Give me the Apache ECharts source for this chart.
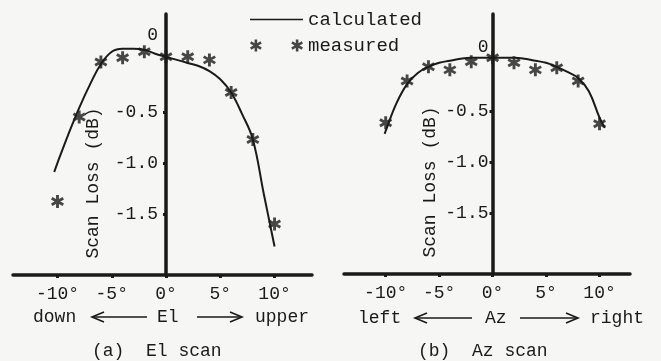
<!DOCTYPE html>
<html>
<head>
<meta charset="utf-8">
<script src="https://cdn.jsdelivr.net/npm/echarts@6/dist/echarts.min.js"></script>
<style>
  html, body { margin: 0; padding: 0; background: #f6f6f4; }
  #main { width: 661px; height: 361px; }
</style>
</head>
<body>
<div id="main"></div>
<script>
// (a) El scan
var elMeasDeg = [-10, -8, -6, -4, -2, 0, 2, 4, 6, 8, 10];
var elMeas = [-1.38, -0.55, -0.01, 0.03, 0.09, 0.04, 0.04, 0.01, -0.31, -0.77, -1.6];
var elCalcDeg = [-10.3, -10, -9, -8, -7, -6, -5, -4, -3, -2, -1, 0, 1, 2, 3, 4, 5, 6, 7, 8, 9, 10];
var elCalc = [-1.09, -1.0, -0.72, -0.46, -0.23, -0.03, 0.09, 0.12, 0.12, 0.11, 0.07, 0.04, 0.01, -0.02, -0.05, -0.1, -0.18, -0.31, -0.52, -0.77, -1.3, -1.82];

// (b) Az scan
var azMeasDeg = [-10, -8, -6, -4, -2, 0, 2, 4, 6, 8, 10];
var azMeas = [-0.61, -0.2, -0.06, -0.09, -0.01, 0.03, -0.02, -0.09, -0.07, -0.2, -0.62];
var azCalcDeg = [-10.1, -10, -9, -8, -7, -6, -5, -4, -3, -2, -1, 0, 1, 2, 3, 4, 5, 6, 7, 8, 9, 10, 10.5];
var azCalc = [-0.72, -0.69, -0.42, -0.23, -0.12, -0.06, -0.02, 0.0, 0.02, 0.03, 0.03, 0.03, 0.03, 0.03, 0.02, 0.0, -0.02, -0.06, -0.11, -0.17, -0.3, -0.56, -0.66];

var xTicks = [-10, -5, 0, 5, 10];
var yTicks = [0, -0.5, -1, -1.5];

var FONT = 'Liberation Mono';
var INK = '#1a1a1a';

function pairs(xs, ys) {
    var out = [];
    for (var i = 0; i < xs.length; i++) out.push([xs[i], ys[i]]);
    return out;
}

// 6 armige Sternchen als Pfad
function starPath(cx) {
    var h = 1.3, l = 6, s = '';
    [0, Math.PI / 3, -Math.PI / 3].forEach(function (t) {
        var c = Math.cos(t), sn = Math.sin(t);
        var pts = [[-h, -l], [h, -l], [h, l], [-h, l]].map(function (p) {
            return (cx + p[0] * c - p[1] * sn).toFixed(2) + ',' + (p[0] * sn + p[1] * c).toFixed(2);
        });
        s += 'M' + pts[0] + ' L' + pts[1] + ' L' + pts[2] + ' L' + pts[3] + ' Z ';
    });
    return s;
}
var starIcon = 'path://' + starPath(0);
var starPairIcon = 'path://' + starPath(0) + starPath(41);
// Linie fuer die Legende, winzige Punkte halten die Box auf 53x14
var lineIcon = 'path://M0,6.2 L53,6.2 L53,7.8 L0,7.8 Z M0,0 L0.01,0 L0.01,0.01 Z M0,14 L0.01,14 L0.01,13.99 Z';

function xAxisOpt(idx, min, max) {
    return {
        type: 'value', gridIndex: idx, min: min, max: max,
        splitLine: { show: false },
        axisLine: { onZero: false, lineStyle: { color: INK, width: 3.5 } },
        axisTick: { customValues: xTicks, length: 3, lineStyle: { color: INK, width: 3 } },
        axisLabel: {
            customValues: xTicks, margin: 10, color: INK, fontFamily: FONT, fontSize: 18,
            formatter: function (v) { return v + '\u00b0'; }
        }
    };
}

// offset schiebt die Achse (Linie + Beschriftung) auf x = 0
function yAxisOpt(idx, offset, zeroShift, margin) {
    return {
        type: 'value', gridIndex: idx, min: -2.1, max: 0.46, offset: offset,
        splitLine: { show: false },
        axisLine: { onZero: false, lineStyle: { color: INK, width: 3.5 } },
        axisTick: { customValues: [-0.5, -1, -1.5], length: 3, lineStyle: { color: INK, width: 3 } },
        axisLabel: {
            customValues: yTicks, margin: margin, color: INK, fontFamily: FONT, fontSize: 18,
            formatter: function (v) { return v === 0 ? '{z|0}' : v.toFixed(1); },
            rich: { z: { fontFamily: FONT, fontSize: 18, color: INK, padding: [0, zeroShift[1], zeroShift[0], 0] } }
        }
    };
}

function arrow(x1, x2, y) {
    // Pfeilspitze bei x2
    var d = x2 > x1 ? -1 : 1;
    return [
        { type: 'line', shape: { x1: x1, y1: y, x2: x2, y2: y }, style: { stroke: INK, lineWidth: 1.6 } },
        { type: 'polyline', shape: { points: [[x2 + d * 12, y - 5], [x2, y], [x2 + d * 12, y + 5]] }, style: { stroke: INK, fill: null, lineWidth: 1.6 } }
    ];
}
function vtext(x, y, s) {
    return { type: 'text', x: x, y: y, rotation: Math.PI / 2, style: { text: s, font: '18px ' + FONT, fill: INK, textAlign: 'center', textVerticalAlign: 'middle' } };
}
function htext(x, y, s) {
    return { type: 'text', x: x, y: y, style: { text: s, font: '18px ' + FONT, fill: INK, textVerticalAlign: 'middle' } };
}

var graphics = [
    vtext(93, 183, 'Scan Loss (dB)'),
    vtext(430, 182, 'Scan Loss (dB)'),
    htext(33, 317, 'down'),
    htext(157, 317, 'El'),
    htext(255, 317, 'upper'),
    htext(92, 351, '(a)  El scan'),
    htext(358, 318, 'left'),
    htext(485, 318, 'Az'),
    htext(590, 318, 'right'),
    htext(418, 351, '(b)  Az scan')
].concat(arrow(147, 92, 317), arrow(197, 242, 317), arrow(472, 415, 318), arrow(520, 578, 318));

var myChart = echarts.init(document.getElementById('main'));
var option = {
    backgroundColor: '#f6f6f4',
    animation: false,
    legend: {
        left: 245, top: 5, orient: 'vertical', itemWidth: 53, itemHeight: 14, itemGap: 7,
        textStyle: { fontFamily: FONT, fontSize: 19, color: INK },
        data: [
            { name: 'calculated', icon: lineIcon },
            { name: 'measured', icon: starPairIcon }
        ]
    },
    grid: [
        { left: 13, width: 299, top: 14, height: 261, outerBoundsMode: 'none' },
        { left: 344, width: 286, top: 14, height: 260, outerBoundsMode: 'none' }
    ],
    xAxis: [xAxisOpt(0, -14.1, 13.45), xAxisOpt(1, -13.9, 12.85)],
    yAxis: [yAxisOpt(0, -153, [52, 0], 8), yAxisOpt(1, -148.5, [26, 0], 4)],
    graphic: graphics,
    series: [
        {
            name: 'calculated', type: 'line', xAxisIndex: 0, yAxisIndex: 0,
            data: pairs(elCalcDeg, elCalc), smooth: 0.4, symbol: 'none',
            lineStyle: { color: INK, width: 2 }, itemStyle: { color: INK }
        },
        {
            name: 'measured', type: 'scatter', xAxisIndex: 0, yAxisIndex: 0,
            data: pairs(elMeasDeg, elMeas), symbol: starIcon, symbolSize: 13,
            itemStyle: { color: INK }
        },
        {
            name: 'calculated', type: 'line', xAxisIndex: 1, yAxisIndex: 1,
            data: pairs(azCalcDeg, azCalc), smooth: 0.4, symbol: 'none',
            lineStyle: { color: INK, width: 2 }, itemStyle: { color: INK }
        },
        {
            name: 'measured', type: 'scatter', xAxisIndex: 1, yAxisIndex: 1,
            data: pairs(azMeasDeg, azMeas), symbol: starIcon, symbolSize: 13,
            itemStyle: { color: INK }
        }
    ]
};
myChart.setOption(option);
</script>
</body>
</html>
